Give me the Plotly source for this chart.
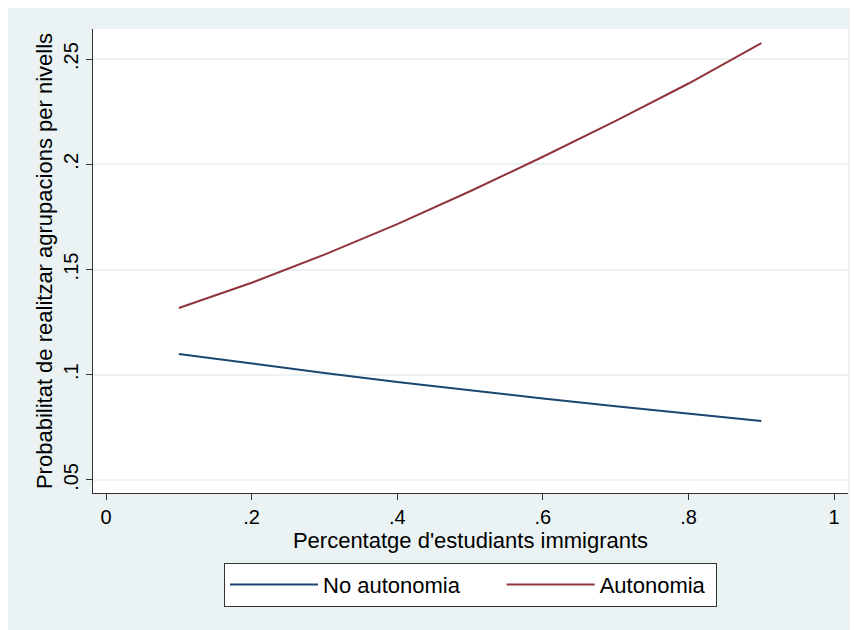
import plotly.graph_objects as go

x_vals = [0.1, 0.2, 0.3, 0.4, 0.5, 0.6, 0.7, 0.8, 0.9]
no_autonomia = [0.1099, 0.1052, 0.1008, 0.0966, 0.0926, 0.0887, 0.0850, 0.0815, 0.0780]
autonomia = [0.1317, 0.1437, 0.1571, 0.1716, 0.1872, 0.2036, 0.2206, 0.2384, 0.2576]

x_ticks = [0, 0.2, 0.4, 0.6, 0.8, 1]
x_ticktext = ["0", ".2", ".4", ".6", ".8", "1"]
y_ticks = [0.05, 0.1, 0.15, 0.2, 0.25]
y_ticktext = [".05", ".1", ".15", ".2", ".25"]

FONT = "Liberation Sans, Arial, sans-serif"
BG = "#EAF2F3"
NB = "\u00a0"
fig = go.Figure()
fig.add_trace(go.Scatter(x=x_vals, y=no_autonomia, mode="lines", name="No autonomia" + NB * 6,
                         line=dict(color="#1a476f", width=2)))
fig.add_trace(go.Scatter(x=x_vals, y=autonomia, mode="lines", name="Autonomia" + NB,
                         line=dict(color="#90353b", width=2)))

fig.update_layout(
    width=851, height=624,
    margin=dict(l=85, r=11, t=21, b=139),
    paper_bgcolor=BG, plot_bgcolor="white",
    font=dict(family=FONT, size=20, color="black"),
    showlegend=True,
    legend=dict(orientation="h", x=0.5, xanchor="center", y=-0.15, yanchor="top",
                bgcolor="white", bordercolor="#333333", borderwidth=1,
                itemwidth=88, font=dict(size=22)),
    xaxis=dict(range=[-0.0179, 1.019], tickvals=x_ticks, ticktext=x_ticktext,
               showgrid=False, zeroline=False, showline=True, linecolor="#333333", linewidth=1,
               ticks="outside", ticklen=6, tickcolor="#333333", tickfont=dict(size=20),
               title=dict(text="Percentatge d'estudiants immigrants", standoff=0,
                          font=dict(size=22))),
    yaxis=dict(range=[0.0438, 0.2643], tickvals=y_ticks, ticktext=y_ticktext, tickangle=-90,
               showgrid=True, gridcolor=BG, gridwidth=2, zeroline=False,
               showline=True, linecolor="#333333", linewidth=1,
               ticks="outside", ticklen=6, tickcolor="#333333", tickfont=dict(size=20),
               title=dict(text="Probabilitat de realitzar agrupacions per nivells", standoff=1,
                          font=dict(size=22))),
)

fig.write_html("out.html")
